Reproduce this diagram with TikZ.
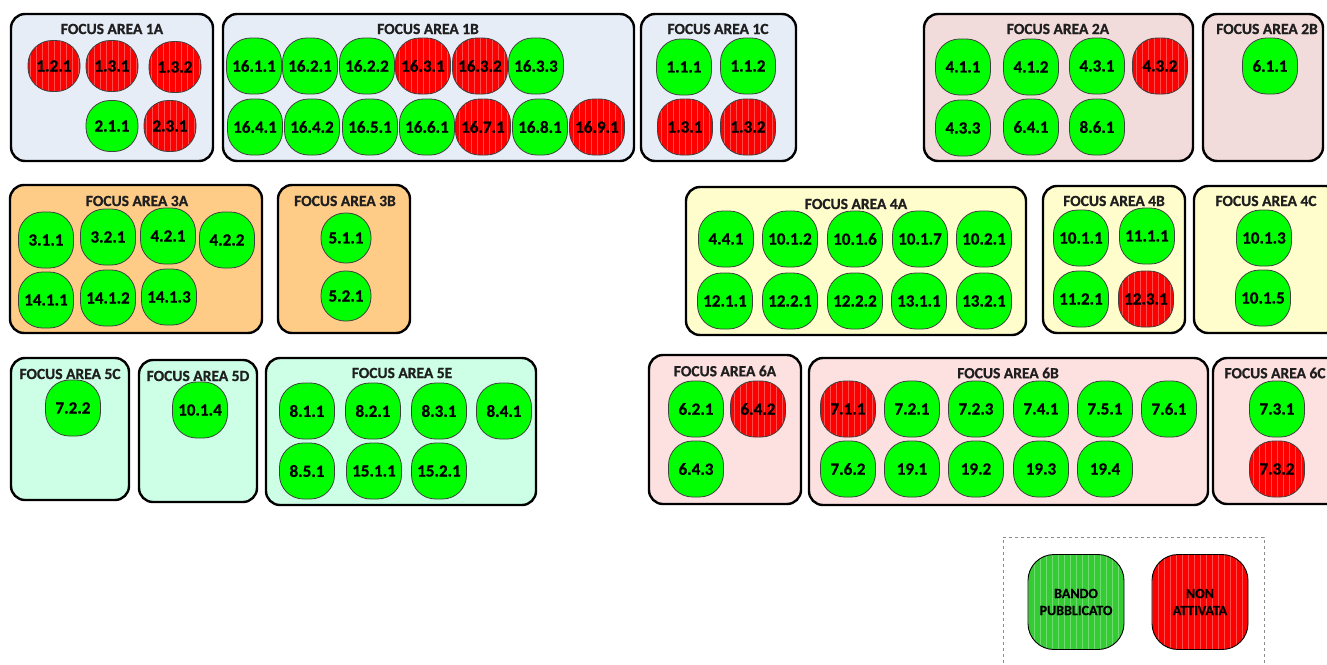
\documentclass[tikz,border=0pt]{standalone}
\usepackage{fontspec}
\setmainfont{Carlito}[BoldFeatures={FakeBold=0.8}]
\definecolor{bgBlue}{HTML}{E6EDF7}
\definecolor{bgRose}{HTML}{F2DCDB}
\definecolor{bgOrange}{HTML}{FFCC88}
\definecolor{bgYellow}{HTML}{FFFDCC}
\definecolor{bgMint}{HTML}{CCFFE6}
\definecolor{bgPink}{HTML}{FDE0E0}
\definecolor{onGreen}{HTML}{00FF00}
\definecolor{offRed}{HTML}{FF0000}
\definecolor{legGreen}{HTML}{33CC33}
\begin{document}
\begin{tikzpicture}[x=1pt,y=-1pt,
  area/.style={draw=black,line width=2.4pt,rounded corners=14pt,inner sep=0pt},
  ttl/.style={font=\fontsize{15.5}{17}\selectfont\bfseries,text=black!88,inner sep=0pt},
  stripes/.style={path picture={\foreach \k in {-66,-60,...,66} \draw[white,opacity=0.3,line width=0.45pt] ([xshift=\k pt]path picture bounding box.south) -- ([xshift=\k pt]path picture bounding box.north);}},
  cell/.style={draw=black!75,line width=0.8pt,rounded corners=24pt,minimum width=55pt,minimum height=56pt,inner sep=0pt,font=\fontsize{17}{19}\selectfont\bfseries},
  gn/.style={cell,fill=onGreen},
  rn/.style={cell,fill=offRed,stripes},
  small/.style={minimum width=50pt,minimum height=50pt,rounded corners=24pt},
  leg/.style={draw=black,line width=0.9pt,rounded corners=26pt,minimum width=96pt,minimum height=95pt,inner sep=0pt,align=center,font=\fontsize{14}{17}\selectfont\bfseries,stripes}]
\useasboundingbox (0,0) rectangle (1327,664);
\fill[white] (0,0) rectangle (1327,664);
% ---- containers
\node[area,fill=bgBlue,minimum width=202pt,minimum height=147pt] (A1A) at (112,87.5) {};
\node[area,fill=bgBlue,minimum width=411pt,minimum height=147pt] (A1B) at (428.5,87.5) {};
\node[area,fill=bgBlue,minimum width=155pt,minimum height=147pt] (A1C) at (718.5,87.5) {};
\node[area,fill=bgRose,minimum width=269pt,minimum height=147pt] (A2A) at (1058.5,87.5) {};
\node[area,fill=bgRose,minimum width=120pt,minimum height=147pt] (A2B) at (1263,87.5) {};
\node[area,fill=bgOrange,minimum width=252pt,minimum height=148pt] (A3A) at (136,259) {};
\node[area,fill=bgOrange,minimum width=132pt,minimum height=148pt] (A3B) at (344,259) {};
\node[area,fill=bgYellow,minimum width=340pt,minimum height=148pt] (A4A) at (856,261) {};
\node[area,fill=bgYellow,minimum width=142pt,minimum height=147pt] (A4B) at (1114,259.5) {};
\node[area,fill=bgYellow,minimum width=146pt,minimum height=147pt] (A4C) at (1267,259.5) {};
\node[area,fill=bgMint,minimum width=118pt,minimum height=142pt] (A5C) at (70,429) {};
\node[area,fill=bgMint,minimum width=118pt,minimum height=142pt] (A5D) at (198,431) {};
\node[area,fill=bgMint,minimum width=270pt,minimum height=147pt] (A5E) at (401,431.5) {};
\node[area,fill=bgPink,minimum width=152pt,minimum height=149pt] (A6A) at (725,429.5) {};
\node[area,fill=bgPink,minimum width=399pt,minimum height=147pt] (A6B) at (1008.5,431.5) {};
\node[area,fill=bgPink,minimum width=132pt,minimum height=146pt] (A6C) at (1279,431) {};
% ---- titles
\node[ttl] (T1A) at (112,29) {FOCUS AREA 1A};
\node[ttl] (T1B) at (428,29) {FOCUS AREA 1B};
\node[ttl] (T1C) at (718,29) {FOCUS AREA 1C};
\node[ttl] (T2A) at (1058,29) {FOCUS AREA 2A};
\node[ttl] (T2B) at (1267,29) {FOCUS AREA 2B};
\node[ttl] (T3A) at (137,201) {FOCUS AREA 3A};
\node[ttl] (T3B) at (345,201) {FOCUS AREA 3B};
\node[ttl] (T4A) at (856,204) {FOCUS AREA 4A};
\node[ttl] (T4B) at (1114,201) {FOCUS AREA 4B};
\node[ttl] (T4C) at (1266,201) {FOCUS AREA 4C};
\node[ttl] (T5C) at (70,374) {FOCUS AREA 5C};
\node[ttl] (T5D) at (198,376) {FOCUS AREA 5D};
\node[ttl] (T5E) at (402,373) {FOCUS AREA 5E};
\node[ttl] (T6A) at (725,371) {FOCUS AREA 6A};
\node[ttl] (T6B) at (1008,373) {FOCUS AREA 6B};
\node[ttl] (T6C) at (1275,373) {FOCUS AREA 6C};
% ---- 1A
\node[rn,minimum width=52pt,minimum height=51pt] (a121) at (54,66) {1.2.1};
\node[rn,minimum width=52pt,minimum height=51pt] (a131) at (112,66) {1.3.1};
\node[rn,minimum width=52pt,minimum height=51pt] (a132) at (175,67) {1.3.2};
\node[gn,minimum width=52pt,minimum height=51pt] (a211) at (112,126) {2.1.1};
\node[rn,minimum width=52pt,minimum height=51pt] (a231) at (170,126) {2.3.1};
% ---- 1B
\node[gn] (b1611) at (254,66) {16.1.1};
\node[gn] (b1621) at (310,66) {16.2.1};
\node[gn] (b1622) at (367,66) {16.2.2};
\node[rn] (b1631) at (423,66) {16.3.1};
\node[rn] (b1632) at (480,66) {16.3.2};
\node[gn] (b1633) at (536,66) {16.3.3};
\node[gn] (b1641) at (255,127) {16.4.1};
\node[gn] (b1642) at (312,127) {16.4.2};
\node[gn] (b1651) at (370,127) {16.5.1};
\node[gn] (b1661) at (427,127) {16.6.1};
\node[rn] (b1671) at (483,127) {16.7.1};
\node[gn] (b1681) at (540,127) {16.8.1};
\node[rn] (b1691) at (597,127) {16.9.1};
% ---- 1C
\node[gn] (c111) at (684,67) {1.1.1};
\node[gn] (c112) at (748,66) {1.1.2};
\node[rn] (c131) at (685,127) {1.3.1};
\node[rn] (c132) at (748,127) {1.3.2};
% ---- 2A
\node[gn] (d411) at (963,67) {4.1.1};
\node[gn] (d412) at (1031,67) {4.1.2};
\node[gn] (d431) at (1097,66) {4.3.1};
\node[rn] (d432) at (1160,66) {4.3.2};
\node[gn] (d433) at (963,128) {4.3.3};
\node[gn] (d641) at (1031,127) {6.4.1};
\node[gn] (d861) at (1097,127) {8.6.1};
% ---- 2B
\node[gn] (e611) at (1270,66) {6.1.1};
% ---- 3A
\node[gn] (f311) at (46,240) {3.1.1};
\node[gn] (f321) at (108,237) {3.2.1};
\node[gn] (f421) at (168,236) {4.2.1};
\node[gn] (f422) at (227,240) {4.2.2};
\node[gn] (f1411) at (46,300) {14.1.1};
\node[gn] (f1412) at (108,298) {14.1.2};
\node[gn] (f1413) at (169,297) {14.1.3};
% ---- 3B
\node[gn,small] (g511) at (346,238) {5.1.1};
\node[gn,small] (g521) at (346,296) {5.2.1};
% ---- 4A
\node[gn] (h441) at (726,239) {4.4.1};
\node[gn] (h1012) at (790,239) {10.1.2};
\node[gn] (h1016) at (855,239) {10.1.6};
\node[gn] (h1017) at (920,239) {10.1.7};
\node[gn] (h1021) at (984,239) {10.2.1};
\node[gn] (h1211) at (725,301) {12.1.1};
\node[gn] (h1221) at (790,301) {12.2.1};
\node[gn] (h1222) at (855,301) {12.2.2};
\node[gn] (h1311) at (919,301) {13.1.1};
\node[gn] (h1321) at (984,301) {13.2.1};
% ---- 4B
\node[gn] (i1011) at (1081,238) {10.1.1};
\node[gn] (i1111) at (1147,236) {11.1.1};
\node[gn] (i1121) at (1081,299) {11.2.1};
\node[rn] (i1231) at (1146,299) {12.3.1};
% ---- 4C
\node[gn] (j1013) at (1264,238) {10.1.3};
\node[gn] (j1015) at (1263,298) {10.1.5};
% ---- 5C, 5D
\node[gn] (k722) at (73,408) {7.2.2};
\node[gn] (l1014) at (200,410) {10.1.4};
% ---- 5E
\node[gn] (m811) at (307,411) {8.1.1};
\node[gn] (m821) at (373,411) {8.2.1};
\node[gn] (m831) at (439,411) {8.3.1};
\node[gn] (m841) at (504,411) {8.4.1};
\node[gn] (m851) at (307,471) {8.5.1};
\node[gn] (m1511) at (374,471) {15.1.1};
\node[gn] (m1521) at (439,471) {15.2.1};
% ---- 6A
\node[gn] (n621) at (696,409) {6.2.1};
\node[rn] (n642) at (758,409) {6.4.2};
\node[gn] (n643) at (696,469) {6.4.3};
% ---- 6B
\node[rn] (o711) at (848,409) {7.1.1};
\node[gn] (o721) at (912,409) {7.2.1};
\node[gn] (o723) at (976,409) {7.2.3};
\node[gn] (o741) at (1041,409) {7.4.1};
\node[gn] (o751) at (1105,409) {7.5.1};
\node[gn] (o761) at (1169,409) {7.6.1};
\node[gn] (o762) at (848,469) {7.6.2};
\node[gn] (o191) at (912,469) {19.1};
\node[gn] (o192) at (976,469) {19.2};
\node[gn] (o193) at (1041,469) {19.3};
\node[gn] (o194) at (1105,469) {19.4};
% ---- 6C
\node[gn] (p731) at (1277,409) {7.3.1};
\node[rn] (p732) at (1277,469) {7.3.2};
% ---- legend
\node[draw=black!45,dashed,line width=0.6pt,minimum width=261pt,minimum height=135pt,inner sep=0pt] (LEG) at (1133.5,604.5) {};
\node[leg,fill=legGreen] (LG) at (1076,602) {BANDO\\PUBBLICATO};
\node[leg,fill=offRed] (LR) at (1200,602) {NON\\ATTIVATA};
\end{tikzpicture}
\end{document}
